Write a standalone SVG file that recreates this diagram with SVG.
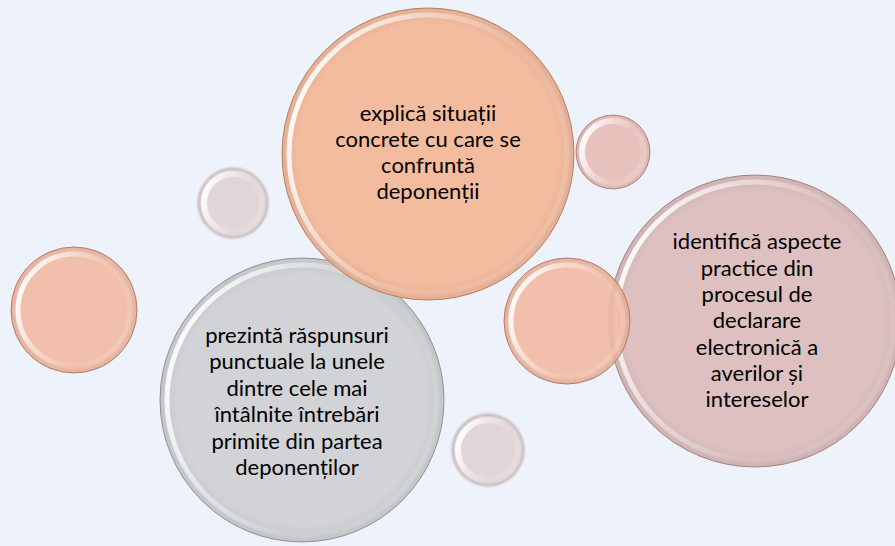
<svg xmlns="http://www.w3.org/2000/svg" width="895" height="546" viewBox="0 0 895 546">
<defs>
<linearGradient id="rim" x1="0" y1="0.3" x2="1" y2="0.7">
<stop offset="0" stop-color="#ffffff" stop-opacity="0.95"/>
<stop offset="0.3" stop-color="#ffffff" stop-opacity="0.45"/>
<stop offset="0.65" stop-color="#ffffff" stop-opacity="0.06"/>
<stop offset="1" stop-color="#ffffff" stop-opacity="0.15"/>
</linearGradient>
<radialGradient id="shade" cx="0.5" cy="0.5" r="0.5">
<stop offset="0.88" stop-color="#000000" stop-opacity="0"/>
<stop offset="1" stop-color="#000000" stop-opacity="0.07"/>
</radialGradient>
<filter id="soft" x="-20%" y="-20%" width="140%" height="140%">
<feGaussianBlur stdDeviation="1"/>
</filter>
</defs>
<style>
.base{stroke-width:1}
.rim{fill:none;stroke:url(#rim)}
.sh{fill:url(#shade)}
.t{font-family:"Lato","Liberation Sans",sans-serif;font-size:22px;fill:#000;text-anchor:middle}
.orange{fill:#f4b797;stroke:#b98566;fill-opacity:0.92}
.gray{fill:#cfd0d3;stroke:#96979a;fill-opacity:0.92}
.pink{fill:#dcbcbb;stroke:#a98987;fill-opacity:0.92}
.salmon{fill:#f1b9a2;stroke:#c0806a;fill-opacity:0.9}
.rose{fill:#e6bdb6;stroke:#b98a83;fill-opacity:0.92}
.pale{fill:#e2d4d6;stroke:#bba7a9;fill-opacity:0.95}
</style>
<rect width="895" height="546" fill="#eef3fb"/>

<g id="bubble-small-left-pale">
<circle class="base pale" cx="233" cy="203" r="35" filter="url(#soft)"/>
<circle class="sh" cx="233" cy="203" r="35"/>
<circle class="rim" cx="233" cy="203" r="29" stroke-width="6"/>
</g>
<g id="bubble-small-left-orange">
<circle class="base salmon" cx="74" cy="310" r="63"/>
<circle class="sh" cx="74" cy="310" r="63"/>
<circle class="rim" cx="74" cy="310" r="56" stroke-width="5"/>
</g>
<g id="bubble-small-bottom-pale">
<circle class="base pale" cx="488" cy="450" r="36" filter="url(#soft)"/>
<circle class="sh" cx="488" cy="450" r="36"/>
<circle class="rim" cx="488" cy="450" r="30" stroke-width="6"/>
</g>
<g id="bubble-small-top-right">
<circle class="base rose" cx="613" cy="152" r="37"/>
<circle class="sh" cx="613" cy="152" r="37"/>
<circle class="rim" cx="613" cy="152" r="31" stroke-width="6"/>
</g>

<g id="node-gray">
<circle class="base gray" cx="302" cy="400" r="142"/>
<circle class="sh" cx="302" cy="400" r="142"/>
<circle class="rim" cx="302" cy="400" r="135" stroke-width="5"/>
<text class="t"><tspan x="297" y="343">prezintă răspunsuri</tspan><tspan x="297" y="369">punctuale la unele</tspan><tspan x="297" y="396">dintre cele mai</tspan><tspan x="297" y="422">întâlnite întrebări</tspan><tspan x="297" y="449">primite din partea</tspan><tspan x="297" y="475">deponenților</tspan></text>
</g>

<g id="node-orange">
<circle class="base orange" cx="428" cy="154" r="146"/>
<circle class="sh" cx="428" cy="154" r="146"/>
<circle class="rim" cx="428" cy="154" r="139" stroke-width="5"/>
<text class="t"><tspan x="428" y="121">explică situații</tspan><tspan x="428" y="147">concrete cu care se</tspan><tspan x="428" y="173">confruntă</tspan><tspan x="428" y="199">deponenții</tspan></text>
</g>

<g id="node-pink">
<circle class="base pink" cx="755" cy="321" r="146"/>
<circle class="sh" cx="755" cy="321" r="146"/>
<circle class="rim" cx="755" cy="321" r="139" stroke-width="5"/>
<text class="t"><tspan x="757" y="249">identifică aspecte</tspan><tspan x="757" y="276">practice din</tspan><tspan x="757" y="302">procesul de</tspan><tspan x="757" y="328">declarare</tspan><tspan x="757" y="355">electronică a</tspan><tspan x="757" y="381">averilor și</tspan><tspan x="757" y="407">intereselor</tspan></text>
</g>

<g id="bubble-small-mid-orange">
<circle class="base salmon" cx="567" cy="321" r="63" fill-opacity="0.8"/>
<circle class="sh" cx="567" cy="321" r="63"/>
<circle class="rim" cx="567" cy="321" r="56" stroke-width="5"/>
</g>

<g id="connectors"></g>
</svg>
